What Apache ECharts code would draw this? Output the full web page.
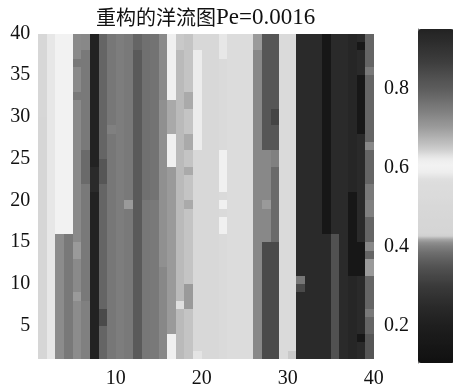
<!DOCTYPE html>
<html><head><meta charset="utf-8">
<script src="https://cdn.jsdelivr.net/npm/echarts@6/dist/echarts.min.js"></script>
<style>html,body{margin:0;padding:0;background:#fff}#c{width:453px;height:389px}</style>
</head><body><div id="c"></div>
<script>
const titleCJK = '重构的洋流图';
const titleLatin = 'Pe=0.0016';
const xTickLabels = [10, 20, 30, 40];
const yTickLabels = [5, 10, 15, 20, 25, 30, 35, 40];
const colorbarTicks = [0.2, 0.4, 0.6, 0.8];
const valueRange = [0.105, 0.95];
// colormap: [value, gray level]
const cmapStops = [[0.105,16],[0.20,30],[0.25,42],[0.30,58],[0.35,84],[0.38,106],[0.40,128],[0.415,150],[0.425,212],[0.50,216],[0.57,222],[0.585,236],[0.60,242],[0.62,238],[0.65,200],[0.70,156],[0.75,122],[0.80,92],[0.87,60],[0.95,34]];
// 39 x 39 cells; first row is the top row (y 39..40), columns x = 1..39
const cellRows = [
[.48,.579,.60,.60,.727,.729,.217,.373,.392,.397,.394,.373,.385,.388,.727,.595,.65,.655,.50,.50,.50,.579,.547,.547,.547,.703,.352,.352,.523,.523,.25,.25,.25,.15,.25,.25,.233,.25,.373],
[.48,.579,.60,.60,.727,.729,.217,.373,.392,.397,.394,.373,.385,.388,.727,.595,.65,.655,.50,.50,.50,.579,.547,.547,.547,.703,.352,.352,.523,.523,.25,.25,.25,.15,.25,.25,.233,.15,.373],
[.48,.579,.60,.60,.727,.394,.217,.373,.392,.397,.394,.359,.385,.388,.727,.595,.665,.655,.585,.50,.50,.579,.547,.547,.547,.729,.352,.352,.523,.523,.25,.25,.25,.15,.25,.25,.233,.25,.373],
[.48,.579,.60,.60,.394,.394,.217,.373,.392,.397,.394,.359,.385,.388,.727,.595,.665,.655,.585,.50,.50,.523,.547,.547,.547,.729,.352,.352,.523,.523,.25,.25,.25,.15,.25,.25,.233,.25,.373],
[.48,.579,.60,.60,.727,.394,.217,.373,.392,.397,.394,.359,.385,.388,.727,.595,.665,.655,.585,.50,.50,.523,.547,.547,.547,.729,.352,.352,.523,.523,.25,.25,.25,.15,.25,.25,.233,.25,.394],
[.48,.579,.60,.60,.727,.394,.217,.373,.392,.397,.394,.359,.385,.388,.727,.595,.665,.655,.585,.50,.50,.523,.547,.547,.547,.729,.352,.352,.523,.523,.25,.25,.25,.15,.25,.25,.233,.15,.373],
[.48,.579,.60,.60,.727,.394,.217,.373,.392,.397,.394,.359,.385,.388,.727,.595,.665,.655,.585,.50,.50,.523,.547,.547,.547,.729,.352,.352,.523,.523,.25,.25,.25,.15,.25,.25,.233,.15,.373],
[.48,.579,.60,.60,.394,.394,.217,.373,.392,.397,.394,.359,.385,.388,.727,.595,.665,.684,.585,.50,.50,.523,.547,.547,.547,.729,.352,.352,.523,.523,.25,.25,.25,.15,.25,.25,.233,.15,.373],
[.48,.579,.60,.60,.727,.394,.217,.373,.392,.397,.394,.359,.385,.388,.718,.686,.665,.684,.585,.50,.50,.523,.547,.547,.547,.729,.352,.352,.523,.523,.25,.25,.25,.15,.25,.25,.233,.15,.373],
[.48,.579,.60,.60,.727,.394,.217,.373,.392,.397,.394,.359,.385,.388,.718,.686,.665,.655,.585,.50,.50,.523,.547,.547,.547,.729,.352,.32,.523,.523,.25,.25,.25,.15,.25,.25,.233,.15,.373],
[.46,.579,.60,.60,.727,.394,.217,.373,.392,.397,.394,.359,.385,.388,.718,.686,.665,.655,.585,.50,.50,.523,.547,.547,.547,.729,.352,.32,.523,.523,.25,.25,.25,.15,.25,.25,.233,.15,.373],
[.46,.579,.60,.60,.727,.394,.217,.373,.40,.397,.394,.359,.385,.388,.718,.686,.665,.655,.585,.50,.50,.523,.547,.547,.547,.729,.352,.352,.523,.523,.25,.25,.25,.15,.25,.25,.233,.15,.373],
[.46,.579,.60,.60,.727,.394,.217,.373,.392,.397,.394,.359,.385,.388,.718,.595,.665,.684,.585,.50,.50,.523,.547,.547,.547,.729,.352,.352,.523,.523,.25,.25,.25,.15,.25,.25,.233,.25,.373],
[.46,.579,.60,.60,.727,.394,.217,.373,.392,.397,.394,.359,.385,.388,.718,.595,.665,.684,.585,.50,.50,.523,.547,.547,.547,.729,.352,.352,.523,.523,.25,.25,.25,.15,.25,.25,.233,.25,.729],
[.46,.579,.60,.60,.727,.38,.217,.373,.392,.397,.394,.359,.385,.388,.718,.595,.665,.655,.50,.50,.50,.595,.547,.547,.547,.729,.729,.40,.523,.523,.25,.25,.25,.15,.25,.25,.233,.25,.373],
[.46,.579,.60,.60,.727,.38,.217,.352,.392,.397,.394,.359,.385,.388,.718,.595,.665,.655,.50,.50,.50,.595,.547,.547,.547,.729,.729,.40,.523,.523,.25,.25,.25,.15,.25,.25,.233,.25,.373],
[.46,.579,.60,.60,.727,.38,.25,.352,.392,.397,.394,.359,.385,.388,.718,.702,.665,.684,.50,.50,.50,.595,.547,.547,.547,.729,.729,.38,.523,.523,.25,.25,.25,.15,.25,.25,.233,.25,.373],
[.46,.579,.60,.60,.727,.38,.25,.352,.392,.397,.394,.359,.385,.388,.718,.702,.665,.655,.50,.50,.50,.595,.547,.547,.547,.729,.729,.38,.523,.523,.25,.25,.25,.15,.25,.25,.233,.25,.373],
[.46,.579,.60,.60,.727,.394,.25,.373,.392,.397,.394,.359,.385,.388,.718,.702,.665,.655,.50,.50,.50,.595,.547,.547,.547,.729,.729,.38,.523,.523,.25,.25,.25,.15,.25,.25,.233,.25,.394],
[.46,.579,.60,.60,.727,.394,.217,.373,.392,.397,.394,.359,.385,.388,.718,.702,.665,.655,.50,.50,.50,.523,.547,.547,.547,.729,.729,.38,.523,.523,.25,.25,.25,.15,.25,.25,.15,.25,.394],
[.46,.579,.60,.60,.727,.394,.217,.373,.392,.397,.703,.359,.392,.394,.718,.702,.665,.684,.50,.50,.50,.595,.547,.547,.547,.729,.703,.38,.523,.523,.25,.25,.25,.15,.25,.25,.15,.25,.40],
[.46,.579,.60,.60,.727,.394,.217,.373,.392,.397,.394,.359,.392,.394,.718,.702,.665,.655,.50,.50,.50,.523,.547,.547,.547,.729,.729,.38,.523,.523,.25,.25,.25,.15,.25,.25,.15,.25,.40],
[.46,.579,.60,.60,.727,.394,.217,.373,.392,.397,.394,.359,.392,.394,.718,.702,.665,.655,.50,.50,.50,.595,.547,.547,.547,.729,.729,.38,.523,.523,.25,.25,.25,.15,.25,.25,.15,.25,.373],
[.46,.579,.60,.60,.727,.394,.217,.373,.392,.397,.394,.359,.392,.394,.718,.702,.665,.655,.50,.50,.50,.595,.547,.547,.547,.729,.729,.38,.523,.523,.25,.25,.25,.15,.25,.25,.15,.25,.373],
[.46,.579,.724,.394,.727,.394,.217,.373,.392,.397,.394,.359,.392,.394,.718,.702,.665,.655,.50,.50,.50,.523,.547,.547,.547,.729,.729,.38,.523,.523,.25,.25,.25,.25,.345,.25,.15,.25,.373],
[.46,.579,.724,.394,.703,.394,.217,.373,.392,.397,.394,.359,.392,.394,.718,.702,.665,.655,.50,.50,.50,.523,.547,.547,.547,.729,.331,.331,.523,.523,.25,.25,.25,.25,.345,.25,.15,.15,.729],
[.46,.579,.724,.394,.703,.394,.217,.373,.392,.397,.394,.359,.392,.394,.718,.702,.665,.655,.50,.50,.50,.523,.547,.547,.547,.729,.331,.331,.523,.523,.25,.25,.25,.25,.345,.25,.15,.15,.373],
[.46,.579,.724,.394,.727,.394,.217,.373,.392,.397,.394,.359,.392,.394,.718,.702,.665,.655,.50,.50,.50,.523,.547,.547,.547,.729,.331,.331,.523,.523,.25,.25,.25,.25,.345,.25,.15,.15,.703],
[.46,.579,.724,.394,.727,.394,.217,.373,.392,.397,.394,.359,.392,.394,.729,.702,.665,.655,.50,.50,.50,.523,.547,.547,.547,.729,.331,.331,.523,.523,.25,.25,.25,.25,.345,.25,.15,.15,.703],
[.46,.579,.724,.394,.727,.394,.217,.373,.392,.397,.394,.359,.392,.394,.729,.702,.665,.655,.50,.50,.50,.523,.547,.547,.547,.729,.331,.331,.523,.523,.392,.25,.25,.25,.345,.25,.233,.25,.373],
[.46,.579,.724,.394,.727,.394,.217,.373,.392,.397,.394,.359,.392,.394,.729,.702,.665,.703,.50,.50,.50,.523,.547,.547,.547,.729,.331,.331,.523,.523,.331,.25,.25,.25,.345,.25,.233,.25,.373],
[.46,.579,.724,.394,.703,.394,.217,.373,.392,.397,.394,.359,.392,.394,.729,.702,.665,.703,.50,.50,.50,.523,.547,.547,.547,.729,.331,.331,.523,.523,.25,.25,.25,.25,.345,.25,.233,.25,.373],
[.46,.579,.724,.394,.724,.40,.217,.373,.392,.397,.394,.359,.392,.394,.729,.702,.57,.703,.50,.50,.50,.523,.547,.547,.547,.729,.331,.331,.523,.523,.25,.25,.25,.25,.345,.25,.233,.25,.373],
[.46,.579,.724,.394,.724,.40,.217,.331,.392,.397,.394,.359,.392,.394,.729,.702,.665,.655,.50,.50,.50,.523,.547,.547,.547,.729,.331,.331,.523,.523,.25,.25,.25,.25,.345,.25,.233,.25,.394],
[.46,.579,.724,.394,.724,.40,.217,.331,.392,.397,.394,.359,.392,.394,.729,.702,.665,.655,.50,.50,.50,.523,.547,.547,.547,.729,.331,.331,.523,.523,.25,.25,.25,.25,.345,.25,.233,.25,.373],
[.46,.579,.724,.394,.724,.40,.217,.373,.392,.397,.394,.359,.392,.394,.729,.702,.665,.655,.50,.50,.50,.523,.547,.547,.547,.729,.331,.331,.523,.523,.25,.25,.25,.25,.345,.25,.233,.25,.373],
[.46,.579,.724,.394,.724,.40,.217,.373,.392,.397,.394,.359,.392,.394,.729,.595,.665,.655,.50,.50,.50,.523,.547,.547,.547,.729,.331,.331,.523,.523,.25,.25,.25,.25,.345,.25,.233,.15,.352],
[.46,.579,.724,.394,.724,.40,.217,.373,.392,.397,.394,.359,.392,.394,.729,.595,.665,.655,.50,.50,.50,.523,.547,.547,.547,.729,.331,.331,.523,.523,.25,.25,.25,.25,.345,.25,.233,.25,.352],
[.46,.579,.724,.394,.724,.40,.217,.373,.392,.397,.394,.359,.392,.394,.729,.595,.665,.655,.576,.50,.50,.523,.547,.547,.547,.729,.331,.331,.523,.65,.25,.25,.25,.25,.345,.25,.233,.25,.352]
];

// build colour list from stops (style only)
function grayAt(v) {
  for (let i = 1; i < cmapStops.length; i++) {
    if (v <= cmapStops[i][0]) {
      const [v0, g0] = cmapStops[i - 1], [v1, g1] = cmapStops[i];
      return g0 + (g1 - g0) * (v - v0) / (v1 - v0);
    }
  }
  return cmapStops[cmapStops.length - 1][1];
}
const nColors = 200;
const cmapColors = [];
for (let k = 0; k < nColors; k++) {
  const v = valueRange[0] + (valueRange[1] - valueRange[0]) * k / (nColors - 1);
  const g = Math.round(grayAt(v));
  cmapColors.push('rgb(' + g + ',' + g + ',' + g + ')');
}

const nRows = cellRows.length;
const cells = [];
cellRows.forEach((row, r) => {
  row.forEach((v, c) => cells.push([c + 1, nRows - r, v]));
});

const serif = 'Liberation Serif';
const chart = echarts.init(document.getElementById('c'), null, {renderer: 'canvas'});
chart.setOption({
  animation: false,
  backgroundColor: '#fff',
  title: {
    text: '{a|' + titleCJK + '}{b|' + titleLatin + '}',
    left: 96, top: 6, padding: 0,
    textStyle: {
      fontWeight: 'normal',
      rich: {
        a: {fontSize: 20, fontFamily: 'Noto Sans CJK SC', fontWeight: 'normal', color: '#111'},
        b: {fontSize: 23, fontFamily: serif, fontWeight: 'normal', color: '#111'}
      }
    }
  },
  grid: [
    {left: 38.3, top: 33.5, width: 335.4, height: 328.5, containLabel: false},
    {left: 418, top: 29, width: 36, height: 334, containLabel: false}
  ],
  xAxis: [
    {type: 'value', gridIndex: 0, min: 1, max: 40, minInterval: 10, maxInterval: 10,
     axisLine: {show: false}, axisTick: {show: false}, splitLine: {show: false}, splitArea: {show: false},
     axisLabel: {margin: 10, fontSize: 20, fontFamily: serif, color: '#111', showMinLabel: false,
       formatter: v => xTickLabels.includes(v) ? String(v) : ''}},
    {type: 'value', gridIndex: 1, min: 0, max: 1, show: false}
  ],
  yAxis: [
    {type: 'value', gridIndex: 0, min: 1, max: 40, minInterval: 5, maxInterval: 5,
     axisLine: {show: false}, axisTick: {show: false}, splitLine: {show: false}, splitArea: {show: false},
     axisLabel: {margin: 8, fontSize: 20, fontFamily: serif, color: '#111', showMinLabel: false,
       formatter: v => yTickLabels.includes(v) ? String(v) : ''}},
    {type: 'value', gridIndex: 1, min: valueRange[0], max: valueRange[1], minInterval: 0.2, maxInterval: 0.2,
     axisLine: {show: true, lineStyle: {color: '#777', width: 1}},
     axisTick: {show: true, inside: true, length: 3, lineStyle: {color: '#888'}},
     splitLine: {show: false},
     axisLabel: {margin: 9, fontSize: 20, fontFamily: serif, color: '#111', showMinLabel: false, showMaxLabel: false,
       formatter: v => colorbarTicks.some(t => Math.abs(t - v) < 1e-6) ? v.toFixed(1) : ''}}
  ],
  visualMap: {
    type: 'continuous', min: valueRange[0], max: valueRange[1], dimension: 2, seriesIndex: 0,
    calculable: false, realtime: false, hoverLink: false,
    left: 418, top: 29, itemWidth: 36, itemHeight: 334, padding: 0,
    text: null, showLabel: false,
    inRange: {color: cmapColors}
  },
  series: [
    {
      type: 'custom', xAxisIndex: 0, yAxisIndex: 0,
      encode: {x: 0, y: 1},
      data: cells,
      renderItem: function (params, api) {
        const x = api.value(0), y = api.value(1);
        const p0 = api.coord([x, y + 1]);
        const p1 = api.coord([x + 1, y]);
        const x0 = Math.round(p0[0]), y0 = Math.round(p0[1]);
        const x1 = Math.round(p1[0]), y1 = Math.round(p1[1]);
        return {type: 'rect',
          shape: {x: x0, y: y0, width: x1 - x0, height: y1 - y0},
          style: {fill: api.visual('color'), stroke: null, lineWidth: 0}};
      }
    },
    {type: 'scatter', xAxisIndex: 1, yAxisIndex: 1, data: [], silent: true}
  ]
});
</script></body></html>
